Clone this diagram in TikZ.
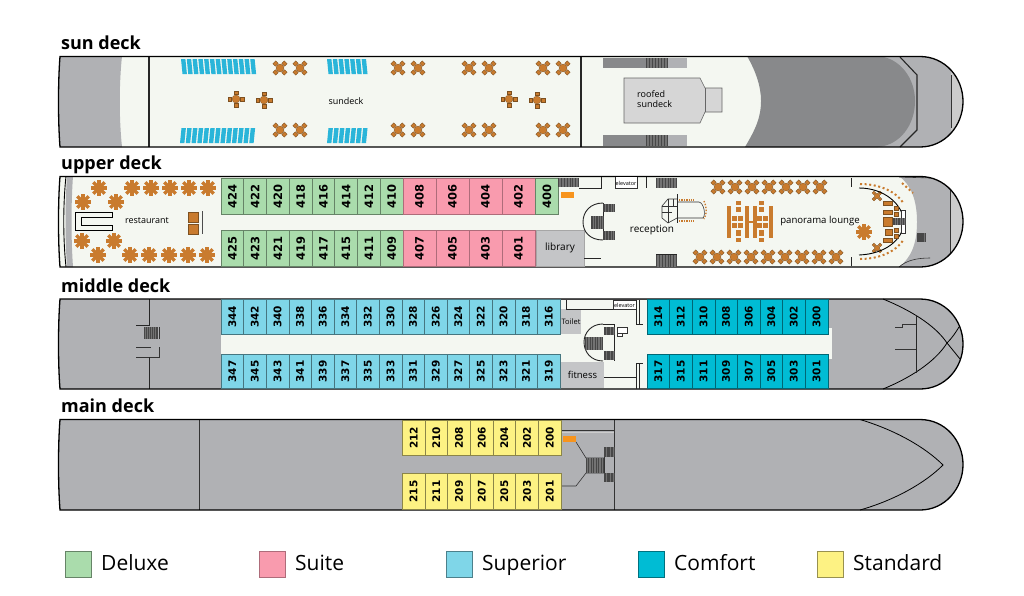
\documentclass[tikz,border=0pt]{standalone}
\usepackage{fontspec}
\setmainfont{Open Sans}
\newfontfamily\numfont{DejaVu Sans}[BoldFont={DejaVu Sans Bold}]
\definecolor{deckcol}{HTML}{F4F7F1}
\definecolor{hullgray}{HTML}{B0B1B4}
\definecolor{darkgray}{HTML}{88898B}
\definecolor{roomgray}{HTML}{C4C5C7}
\definecolor{wood}{HTML}{C97B2E}
\definecolor{woodline}{HTML}{7D5020}
\definecolor{chaircol}{HTML}{2AB5D9}
\definecolor{orangecol}{HTML}{F7941D}
\definecolor{deluxecol}{HTML}{AADCAC}
\definecolor{suitecol}{HTML}{F99BAE}
\definecolor{superiorcol}{HTML}{7FD6E8}
\definecolor{comfortcol}{HTML}{00BCD4}
\definecolor{standardcol}{HTML}{FDF283}
\tikzset{
 hull/.style={draw=black,line width=1.3pt},
 wall/.style={draw=black!85,line width=0.9pt},
 thinwall/.style={draw=black!80,line width=0.6pt},
 title/.style={anchor=base west,font=\fontsize{18}{20}\selectfont\bfseries,inner sep=0pt},
 label/.style={font=\fontsize{9}{11}\selectfont,inner sep=0pt,align=left},
 cabin/.style={rotate=90,inner sep=0pt,line width=0.6pt,font=\fontsize{11.5}{13}\selectfont\numfont\bfseries},
 deluxe/.style={cabin,fill=deluxecol,draw=deluxecol!60!black,minimum width=36pt,minimum height=22.75pt},
 suite/.style={cabin,fill=suitecol,draw=suitecol!70!black,minimum width=36pt,minimum height=33pt},
 superior/.style={cabin,fill=superiorcol,draw=superiorcol!55!black,minimum width=34.5pt,minimum height=22.6pt,font=\fontsize{10.5}{12}\selectfont\numfont\bfseries},
 comfort/.style={cabin,fill=comfortcol,draw=comfortcol!55!black,minimum width=34.5pt,minimum height=22.6pt,font=\fontsize{10.5}{12}\selectfont\numfont\bfseries},
 standard/.style={cabin,fill=standardcol,draw=standardcol!55!black,minimum width=35.5pt,minimum height=22.7pt,font=\fontsize{10.5}{12}\selectfont\numfont\bfseries},
 legendbox/.style={inner sep=0pt,minimum width=26pt,minimum height=26pt,line width=0.6pt},
 legendtext/.style={anchor=base west,inner sep=0pt,font=\fontsize{21}{24}\selectfont},
 woodbox/.style={fill=wood,draw=woodline,line width=0.3pt},
 plustable/.pic={
  \fill [wood,draw=woodline,line width=0.3pt] (-2,-8) rectangle (2,-4.5);
  \fill [wood,draw=woodline,line width=0.3pt] (-2,8) rectangle (2,4.5);
  \fill [wood,draw=woodline,line width=0.3pt] (-8,-2) rectangle (-4.5,2);
  \fill [wood,draw=woodline,line width=0.3pt] (8,-2) rectangle (4.5,2);
  \fill [wood,draw=woodline,line width=0.3pt] (0,0) circle (4pt);
 },
 rosette/.pic={
  \foreach \a in {0,45,...,315} {
   \draw [wood,line width=3.3pt] (0,0) -- (\a:8pt);
  }
  \fill [wood] (0,0) circle (5pt);
 },
}
%hull outline, with top, middle and bottom of the deck
\newcommand{\hullpath}[3]{(60,#1) -- (920,#1) .. controls (945,#1) and (963,#2-24) .. (963,#2) .. controls (963,#2+24) and (945,#3) .. (920,#3) -- (60,#3) .. controls (58,#2+20) and (58,#2-20) .. (60,#1) -- cycle}
%block of stairs
\newcommand{\stairs}[4]{
 \fill [black!55] (#1,#2) rectangle (#3,#4);
 \foreach \s in {0,0.14,...,1} {
  \draw [black!72,line width=0.5pt] ({#1+\s*(#3-#1)},#2) -- ({#1+\s*(#3-#1)},#4);
 }
}
%row of sun beds
\newcommand{\loungers}[5]{
 \foreach \n in {1,...,#3} {
  \fill [chaircol] ({#1+(\n-1)*5.77},#2) -- ({#1+(\n-1)*5.77+4.4},#2) -- ({#1+(\n-1)*5.77+4.4+#5},#4) -- ({#1+(\n-1)*5.77+#5},#4) -- cycle;
 }
}
\begin{document}
\begin{tikzpicture}[x=1pt,y=-1pt]
 \useasboundingbox [fill=white] (0,0) rectangle (1024,595);

 %deck names
 \node [title] (sunname) at (61,49) {sun deck};
 \node [title] (uppername) at (61,169) {upper deck};
 \node [title] (middlename) at (61,292) {middle deck};
 \node [title] (mainname) at (61,412) {main deck};

 %sun deck
 \fill [deckcol] \hullpath{56.5}{101.5}{147};
 \begin{scope}
  \clip \hullpath{56.5}{101.5}{147};
  \fill [hullgray] (55,56) -- (122,56) .. controls (119,85) and (119,118) .. (122,147) -- (55,147) -- cycle;
  \fill [hullgray] (860,56) -- (970,56) -- (970,147) -- (860,147) -- cycle;
  \fill [darkgray] (747,56) -- (878,56) .. controls (900,58) and (915,78) .. (915,101) .. controls (915,125) and (900,145) .. (878,147) -- (745,147) .. controls (755,130) and (761,118) .. (761,101) .. controls (761,85) and (755,70) .. (747,56) -- cycle;
  \fill [black!20] (951,70) rectangle (970,135);
  \draw [thinwall] (951,75) -- (951,128);
 \end{scope}
 \draw [wall,line width=1.1pt] (900,57) -- (917,75) -- (917,130) -- (900,147);
 \draw [wall,line width=1.1pt] (149,57) -- (149,147);
 \draw [wall,line width=1.1pt] (581,57) -- (581,147);
 \draw [hull] \hullpath{56.5}{101.5}{147};
 \fill [darkgray] (603,58) rectangle (646,68);
 \fill [hullgray] (668,58) rectangle (687,68);
 \stairs{646}{58}{668}{68}
 \fill [darkgray] (603,135) rectangle (646,146);
 \fill [hullgray] (668,135) rectangle (687,146);
 \stairs{646}{135}{668}{146}
 \draw [fill=black!16,draw=black!60,line width=0.6pt] (624,78) -- (700,78) -- (705,88) -- (722,88) -- (722,112) -- (705,112) -- (700,123) -- (624,123) -- cycle;
 \draw [black!60,line width=0.6pt] (705,88) -- (705,112);
 \node [label,anchor=west] (roofed) at (637,99) {roofed\\[-0.5pt]sundeck};
 \node [label] (sundeck) at (346,101) {sundeck};
 \loungers{181}{59}{13}{74}{1.5}
 \loungers{327}{59}{7}{74}{1.5}
 \loungers{180}{143}{13}{128}{1.5}
 \loungers{327}{143}{7}{128}{1.5}
 \pic [rotate=45] at (280,68) {plustable};
 \pic [rotate=45] at (300,68) {plustable};
 \pic [rotate=45] at (398,68) {plustable};
 \pic [rotate=45] at (418,68) {plustable};
 \pic [rotate=45] at (469,68) {plustable};
 \pic [rotate=45] at (489,68) {plustable};
 \pic [rotate=45] at (543,68) {plustable};
 \pic [rotate=45] at (563,68) {plustable};
 \pic [rotate=45] at (280,130) {plustable};
 \pic [rotate=45] at (300,130) {plustable};
 \pic [rotate=45] at (398,130) {plustable};
 \pic [rotate=45] at (418,130) {plustable};
 \pic [rotate=45] at (469,130) {plustable};
 \pic [rotate=45] at (489,130) {plustable};
 \pic [rotate=45] at (543,130) {plustable};
 \pic [rotate=45] at (563,130) {plustable};
 \pic at (236,99) {plustable};
 \pic at (264,100) {plustable};
 \pic at (509,99) {plustable};
 \pic at (537,100) {plustable};

 %upper deck
 \fill [deckcol] \hullpath{176.5}{221.5}{267};
 \begin{scope}
  \clip \hullpath{176.5}{221.5}{267};
  \fill [hullgray] (899,176) .. controls (911,185) and (917,200) .. (917,222) .. controls (917,244) and (911,258) .. (899,267) -- (970,267) -- (970,176) -- cycle;
  \fill [black!20] (950,180) rectangle (970,262);
  \draw [thinwall] (950,190) -- (950,253);
  \draw [thinwall] (899,177) -- (930,178);
  \draw [thinwall] (899,267) .. controls (906,261) and (915,258) .. (930,258);
  \fill [hullgray] (67,176) .. controls (65,205) and (65,238) .. (67,267) -- (73,267) .. controls (71,238) and (71,205) .. (73,176) -- cycle;
  \draw [black,line width=0.9pt] (66,176) .. controls (63,205) and (63,238) .. (66,267);
 \end{scope}
 \draw [hull] \hullpath{176.5}{221.5}{267};
 \stairs{917}{233}{925}{242}
 \node [deluxe] (c424) at (232.4,196) {424};
 \node [deluxe] (c422) at (255.1,196) {422};
 \node [deluxe] (c420) at (277.9,196) {420};
 \node [deluxe] (c418) at (300.6,196) {418};
 \node [deluxe] (c416) at (323.4,196) {416};
 \node [deluxe] (c414) at (346.1,196) {414};
 \node [deluxe] (c412) at (368.9,196) {412};
 \node [deluxe] (c410) at (391.6,196) {410};
 \node [suite] (c408) at (419.5,196) {408};
 \node [suite] (c406) at (452.5,196) {406};
 \node [suite] (c404) at (485.5,196) {404};
 \node [suite] (c402) at (518.5,196) {402};
 \node [deluxe] (c400) at (546.9,196) {400};
 \node [deluxe] (c425) at (232.4,248) {425};
 \node [deluxe] (c423) at (255.1,248) {423};
 \node [deluxe] (c421) at (277.9,248) {421};
 \node [deluxe] (c419) at (300.6,248) {419};
 \node [deluxe] (c417) at (323.4,248) {417};
 \node [deluxe] (c415) at (346.1,248) {415};
 \node [deluxe] (c411) at (368.9,248) {411};
 \node [deluxe] (c409) at (391.6,248) {409};
 \node [suite] (c407) at (419.5,248) {407};
 \node [suite] (c405) at (452.5,248) {405};
 \node [suite] (c403) at (485.5,248) {403};
 \node [suite] (c401) at (518.5,248) {401};
 \node [fill=roomgray,draw=black!35,line width=0.5pt,minimum width=48pt,minimum height=36pt,inner sep=0pt,font=\fontsize{10}{12}\selectfont] (library) at (560,248) {library};
 %restaurant
 \node [label] (restaurant) at (147,221) {restaurant};
 \draw [black,line width=0.6pt] (112,212) -- (75,212) -- (75,230) -- (112,230) -- (112,225) -- (81,225) -- (81,217) -- (112,217) -- cycle;
 \fill [woodbox] (188,212) rectangle (198,222);
 \fill [woodbox] (188,224) rectangle (198,234);
 \draw [black!70,line width=0.8pt] (202,211) -- (202,234);
 \pic at (99,188) {rosette};
 \pic at (132,188) {rosette};
 \pic at (151,188) {rosette};
 \pic at (170,188) {rosette};
 \pic at (189,188) {rosette};
 \pic at (208,188) {rosette};
 \pic at (83,202) {rosette};
 \pic at (116,202) {rosette};
 \pic at (82,241) {rosette};
 \pic at (114,241) {rosette};
 \pic at (98,255) {rosette};
 \pic at (130,255) {rosette};
 \pic at (149,255) {rosette};
 \pic at (169,255) {rosette};
 \pic at (188,255) {rosette};
 \pic at (207,255) {rosette};
 %reception
 \stairs{558}{178}{579}{187}
 \fill [orangecol] (561,192) rectangle (574,198);
 \draw [wall] (579,188) -- (601,188) -- (601,177);
 \draw [wall] (584,258) -- (601,258);
 \draw [thinwall,fill=white] (615,177) -- (615,188) -- (637,188) -- (637,177);
 \node [inner sep=0pt,font=\fontsize{5.5}{6}\selectfont] (upperlift) at (626,183) {elevator};
 \draw [wall] (646,177) -- (646,188);
 \stairs{656}{178}{677}{188}
 \stairs{656}{254}{677}{267}
 \draw [wall] (656,254) -- (677,254);
 \draw [wall] (603,203) .. controls (590,203) and (583,212) .. (583,222) .. controls (583,232) and (590,240) .. (603,240);
 \draw [wall] (603,203) -- (603,240);
 \stairs{603}{204}{614}{212}
 \stairs{591}{216}{603}{229}
 \stairs{603}{231}{614}{240}
 \node [label,font=\fontsize{10}{12}\selectfont] (reception) at (652,230) {reception};
 \draw [wall] (677,194) -- (677,223);
 \draw [thinwall] (677,202) -- (699,202) .. controls (704,203) and (706,215) .. (703,218) -- (677,218);
 \draw [thinwall] (677,199) -- (668,199) -- (662,206) -- (662,218) -- (668,223) -- (677,218);
 \draw [thinwall] (662,206) -- (677,206) (662,212) -- (672,212) (668,199) -- (668,223) (673,199) -- (673,206);
 \draw [wood,line width=1.4pt,dash pattern=on 1.4pt off 1pt] (679,200) -- (694,200);
 \draw [wood,line width=1.4pt,dash pattern=on 1.4pt off 1pt] (679,221) -- (694,221);
 \draw [wood,line width=1.4pt,dash pattern=on 1.4pt off 1.6pt] (704,201) .. controls (707,208) and (707,214) .. (704,219);
 %panorama lounge
 \node [label,font=\fontsize{9.6}{12}\selectfont] (panorama) at (820,221) {panorama lounge};
 \pic [rotate=45] at (718,187) {plustable};
 \pic [rotate=45] at (735,187) {plustable};
 \pic [rotate=45] at (752,187) {plustable};
 \pic [rotate=45] at (769,187) {plustable};
 \pic [rotate=45] at (786,187) {plustable};
 \pic [rotate=45] at (803,187) {plustable};
 \pic [rotate=45] at (820,187) {plustable};
 \pic [rotate=45] at (700,257) {plustable};
 \pic [rotate=45] at (717,257) {plustable};
 \pic [rotate=45] at (734,257) {plustable};
 \pic [rotate=45] at (751,257) {plustable};
 \pic [rotate=45] at (768,257) {plustable};
 \pic [rotate=45] at (785,257) {plustable};
 \pic [rotate=45] at (802,257) {plustable};
 \pic [rotate=45] at (819,257) {plustable};
 \pic [rotate=45] at (836,257) {plustable};
 \fill [wood] (727,206) rectangle (730.5,238);
 \fill [wood] (769,206) rectangle (772.5,238);
 \fill [wood] (745,206) rectangle (748.5,238);
 \fill [wood] (753,206) rectangle (756.5,238);
 \fill [wood] (748,221) rectangle (753,223);
 \fill [wood] (736,201) rectangle (741,205);
 \fill [wood] (759,201) rectangle (764,205);
 \fill [wood] (736,207) rectangle (741,212);
 \fill [wood] (759,207) rectangle (764,212);
 \fill [wood] (732,216) rectangle (737,221);
 \fill [wood] (738,216) rectangle (743,221);
 \fill [wood] (757,216) rectangle (762,221);
 \fill [wood] (763,216) rectangle (768,221);
 \fill [wood] (732,223) rectangle (737,228);
 \fill [wood] (738,223) rectangle (743,228);
 \fill [wood] (757,223) rectangle (762,228);
 \fill [wood] (763,223) rectangle (768,228);
 \fill [wood] (736,230) rectangle (741,236);
 \fill [wood] (759,230) rectangle (764,236);
 \fill [wood] (736,238) rectangle (741,242);
 \fill [wood] (759,238) rectangle (764,242);
 \draw [wall] (851,178) -- (851,187);
 \draw [wall] (851,257) -- (851,266);
 \pic at (864,232) {rosette};
 \pic [rotate=45,scale=0.7] at (877,196) {plustable};
 \pic [rotate=45,scale=0.7] at (877,248) {plustable};
 \draw [black,line width=0.9pt] (859,188) .. controls (885,188) and (903,205) .. (904,222) .. controls (903,240) and (885,254) .. (859,255);
 \draw [wood,line width=2pt,dash pattern=on 2pt off 2.6pt] (860,184) .. controls (880,184) and (897,192) .. (904,204);
 \draw [wood,line width=2pt,dash pattern=on 2pt off 2.6pt] (860,259) .. controls (880,259) and (897,251) .. (904,239);
 \draw [wood,line width=2pt,dash pattern=on 2pt off 2.6pt] (902,183) -- (913,193);
 \fill [woodbox] (883,201) rectangle (892,205);
 \fill [woodbox] (883,210) rectangle (892,214);
 \fill [woodbox] (883,217) rectangle (892,226);
 \fill [woodbox] (885,229) rectangle (892,235);
 \fill [woodbox] (883,238) rectangle (892,242);
 \fill [woodbox] (894,206) rectangle (898,210);
 \fill [woodbox] (894,212) rectangle (898,216);
 \fill [woodbox] (894,228) rectangle (898,232);
 \fill [woodbox] (894,234) rectangle (898,238);
 \draw [thinwall,fill=white] (901,210) rectangle (905,233);
 \stairs{893}{218}{905}{225}

 %middle deck
 \fill [hullgray] \hullpath{299}{344}{389};
 \fill [deckcol] (221,328) rectangle (832,359);
 \fill [deckcol] (560,300) rectangle (647,389);
 \draw [black,line width=0.8pt] (883,299) .. controls (910,310) and (935,325) .. (947,343) .. controls (952,349) and (956,354) .. (960,359);
 \draw [black,line width=0.8pt] (883,389) .. controls (910,378) and (935,362) .. (947,343) .. controls (952,338) and (956,332) .. (959,327);
 \draw [wall] (916,315) -- (916,373);
 \draw [thinwall] (895,327) -- (902,327) -- (902,324) -- (916,324);
 \draw [thinwall] (895,349) -- (916,349);
 \draw [wall] (149,299) -- (149,325) -- (136,325);
 \draw [thinwall] (136,347) -- (151,347);
 \draw [thinwall] (136,357) -- (159,357) -- (159,347);
 \draw [wall] (149,357) -- (149,389);
 \stairs{144}{327}{158}{339}
 \draw [thinwall] (159,327) -- (159,339);
 \draw [hull] \hullpath{299}{344}{389};
 \node [superior] (c344) at (232.3,317) {344};
 \node [superior] (c342) at (254.9,317) {342};
 \node [superior] (c340) at (277.5,317) {340};
 \node [superior] (c338) at (300.1,317) {338};
 \node [superior] (c336) at (322.7,317) {336};
 \node [superior] (c334) at (345.3,317) {334};
 \node [superior] (c332) at (367.9,317) {332};
 \node [superior] (c330) at (390.5,317) {330};
 \node [superior] (c328) at (413.1,317) {328};
 \node [superior] (c326) at (435.7,317) {326};
 \node [superior] (c324) at (458.3,317) {324};
 \node [superior] (c322) at (480.9,317) {322};
 \node [superior] (c320) at (503.5,317) {320};
 \node [superior] (c318) at (526.1,317) {318};
 \node [superior] (c316) at (548.7,317) {316};
 \node [superior] (c347) at (232.3,371.5) {347};
 \node [superior] (c345) at (254.9,371.5) {345};
 \node [superior] (c343) at (277.5,371.5) {343};
 \node [superior] (c341) at (300.1,371.5) {341};
 \node [superior] (c339) at (322.7,371.5) {339};
 \node [superior] (c337) at (345.3,371.5) {337};
 \node [superior] (c335) at (367.9,371.5) {335};
 \node [superior] (c333) at (390.5,371.5) {333};
 \node [superior] (c331) at (413.1,371.5) {331};
 \node [superior] (c329) at (435.7,371.5) {329};
 \node [superior] (c327) at (458.3,371.5) {327};
 \node [superior] (c325) at (480.9,371.5) {325};
 \node [superior] (c323) at (503.5,371.5) {323};
 \node [superior] (c321) at (526.1,371.5) {321};
 \node [superior] (c319) at (548.7,371.5) {319};
 \node [comfort] (c314) at (658.3,317) {314};
 \node [comfort] (c312) at (680.9,317) {312};
 \node [comfort] (c310) at (703.5,317) {310};
 \node [comfort] (c308) at (726.1,317) {308};
 \node [comfort] (c306) at (748.7,317) {306};
 \node [comfort] (c304) at (771.3,317) {304};
 \node [comfort] (c302) at (793.9,317) {302};
 \node [comfort] (c300) at (816.5,317) {300};
 \node [comfort] (c317) at (658.3,371.5) {317};
 \node [comfort] (c315) at (680.9,371.5) {315};
 \node [comfort] (c311) at (703.5,371.5) {311};
 \node [comfort] (c309) at (726.1,371.5) {309};
 \node [comfort] (c307) at (748.7,371.5) {307};
 \node [comfort] (c305) at (771.3,371.5) {305};
 \node [comfort] (c303) at (793.9,371.5) {303};
 \node [comfort] (c301) at (816.5,371.5) {301};
 \node [fill=roomgray,minimum width=20pt,minimum height=25pt,inner sep=0pt,font=\fontsize{7.5}{9}\selectfont] (toilet) at (571,321.5) {Toilet};
 \node [fill=roomgray,minimum width=43pt,minimum height=26pt,inner sep=0pt,font=\fontsize{9.5}{12}\selectfont] (fitness) at (582.5,375) {fitness};
 \draw [wall] (566,300) -- (566,309) -- (636,309);
 \draw [thinwall,fill=white] (613,300) rectangle (636,309);
 \node [inner sep=0pt,font=\fontsize{5.5}{6}\selectfont] (middlelift) at (624.5,305) {elevator};
 \draw [wall] (636,300) -- (636,324) -- (643,324);
 \draw [wall] (639,300) -- (639,324);
 \draw [wall] (636,389) -- (636,363) -- (643,363);
 \draw [wall] (639,389) -- (639,363);
 \draw [wall] (604,377) -- (636,377);
 \draw [wall] (603,324) .. controls (591,324) and (584,333) .. (584,342) .. controls (584,352) and (591,361) .. (603,361);
 \draw [wall] (614,324) -- (614,361);
 \draw [wall] (603,324) -- (614,324);
 \stairs{604}{327}{614}{335}
 \stairs{585}{337}{603}{350}
 \stairs{604}{351}{614}{360}
 \draw [thinwall,fill=white] (617,327) rectangle (627,333);
 \draw [thinwall,fill=white] (617,333) rectangle (622,336);

 %main deck
 \fill [hullgray] \hullpath{419.5}{464.5}{510};
 \draw [black,line width=0.8pt] (860,419.5) .. controls (895,430) and (925,447) .. (943,465) .. controls (925,483) and (895,500) .. (860,510);
 \draw [thinwall] (199,420) -- (199,510);
 \draw [thinwall] (614,420) -- (614,510);
 \draw [black!80,line width=0.8pt] (561,430) -- (614,430);
 \draw [white!80!black,line width=0.6pt] (561,432) -- (614,432);
 \fill [orangecol] (563,436) rectangle (576,442);
 \draw [thinwall] (576,442) -- (586,458) -- (604,458);
 \draw [thinwall] (561,486) -- (576,486) -- (586,473) -- (604,473);
 \draw [thinwall] (604,447) -- (604,482);
 \stairs{586}{458}{604}{473}
 \stairs{604}{447}{614}{457}
 \stairs{604}{473}{614}{482}
 \draw [hull] \hullpath{419.5}{464.5}{510};
 \node [standard] (c212) at (413.6,438) {212};
 \node [standard] (c210) at (436.3,438) {210};
 \node [standard] (c208) at (459,438) {208};
 \node [standard] (c206) at (481.7,438) {206};
 \node [standard] (c204) at (504.4,438) {204};
 \node [standard] (c202) at (527.1,438) {202};
 \node [standard] (c200) at (549.8,438) {200};
 \node [standard] (c215) at (413.6,491.5) {215};
 \node [standard] (c211) at (436.3,491.5) {211};
 \node [standard] (c209) at (459,491.5) {209};
 \node [standard] (c207) at (481.7,491.5) {207};
 \node [standard] (c205) at (504.4,491.5) {205};
 \node [standard] (c203) at (527.1,491.5) {203};
 \node [standard] (c201) at (549.8,491.5) {201};

 %legend
 \node [legendbox,fill=deluxecol,draw=deluxecol!60!black] (keydeluxe) at (78,564) {};
 \node [legendbox,fill=suitecol,draw=suitecol!70!black] (keysuite) at (272,564) {};
 \node [legendbox,fill=superiorcol,draw=superiorcol!60!black] (keysuperior) at (459,564) {};
 \node [legendbox,fill=comfortcol,draw=comfortcol!60!black] (keycomfort) at (651,564) {};
 \node [legendbox,fill=standardcol,draw=standardcol!60!black] (keystandard) at (830,564) {};
 \node [legendtext] (deluxetext) at (101,570.5) {Deluxe};
 \node [legendtext] (suitetext) at (295,570.5) {Suite};
 \node [legendtext] (superiortext) at (482,570.5) {Superior};
 \node [legendtext] (comforttext) at (674,570.5) {Comfort};
 \node [legendtext] (standardtext) at (853,570.5) {Standard};
\end{tikzpicture}
\end{document}
